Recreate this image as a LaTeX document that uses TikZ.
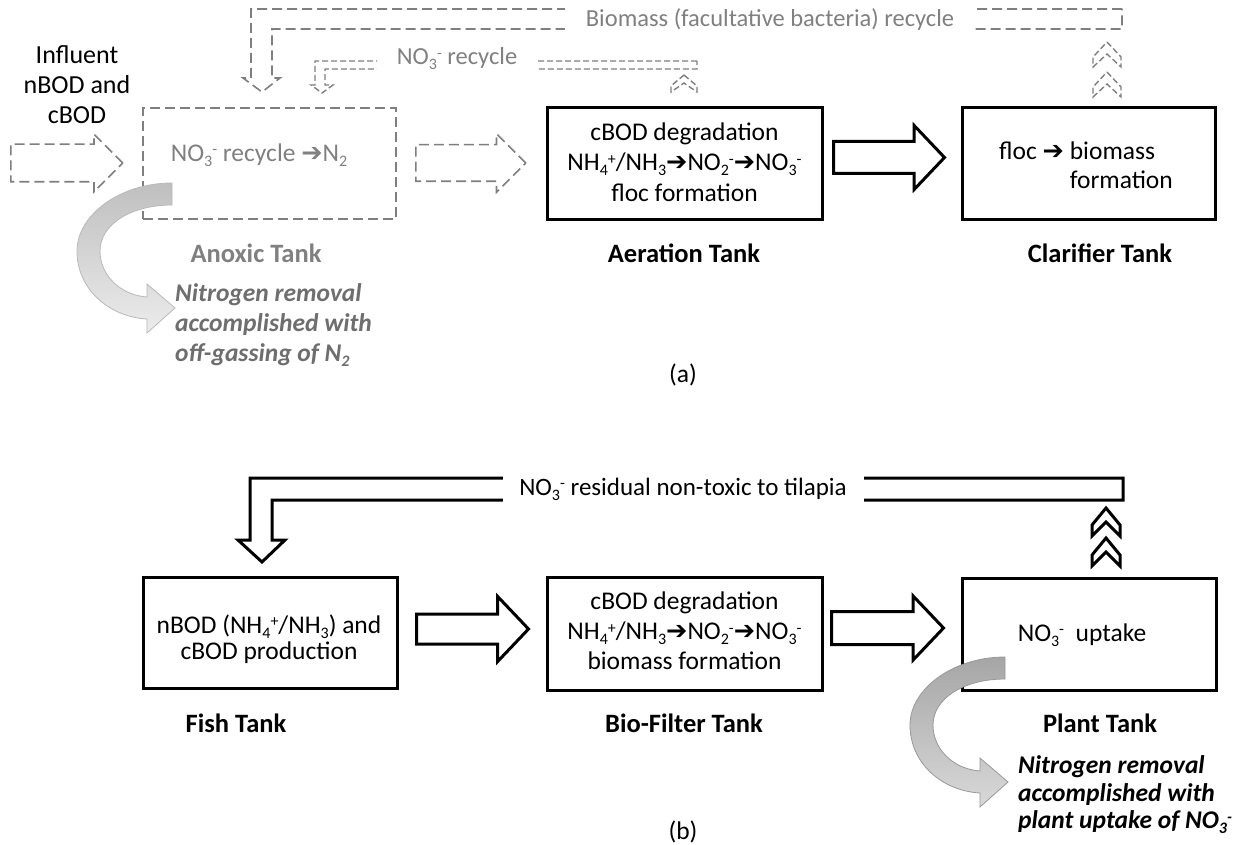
\documentclass[tikz,border=0pt]{standalone}
\usepackage{fontspec}
\setmainfont{Carlito}
\newfontfamily\symf{DejaVu Sans}
\usetikzlibrary{shapes.arrows}
\definecolor{gl}{HTML}{7F7F7F}
\definecolor{gt}{HTML}{808080}
\definecolor{gn}{HTML}{6E6E6E}
\newcommand\arr{{\symf ➔}}
\newcommand\sbs[1]{\raisebox{-0.2em}{\fontsize{16}{16}\selectfont #1}}
\newcommand\sps[1]{\raisebox{0.26em}{\fontsize{16}{16}\selectfont #1}}
\newcommand\nothree{NO\sbs{3}\sps{-}}
\newcommand\mycurvarrow[4]{%
  \begin{scope}[shift={(#1)}]
  \path[draw=#2, line width=0.8pt, top color=#3, bottom color=#4]
    (0,0) .. controls (-52,0) and (-95,32) .. (-95,68)
    .. controls (-95,107) and (-62,134) .. (-25,136)
    -- (-25,150) -- (3,125) -- (-25,101) -- (-25,114)
    .. controls (-52,112) and (-72,92) .. (-72,68)
    .. controls (-72,42) and (-42,22) .. (0,22) -- cycle;
  \end{scope}}
\begin{document}
\begin{tikzpicture}[x=1pt,y=-1pt,
  txt/.style={font=\fontsize{25.5}{29}\selectfont, align=center, inner sep=0pt},
  ptxt/.style={font=\fontsize{24.5}{29}\selectfont, align=center, inner sep=0pt},
  lbl/.style={font=\fontsize{26.5}{29}\selectfont\bfseries, inner sep=0pt},
  nrem/.style={align=left, inner sep=0pt, anchor=west},
  gline/.style={draw=gl, line width=1.6pt, dash pattern=on 10pt off 5pt},
  gsmall/.style={draw=gl, line width=1.4pt, dash pattern=on 6pt off 3pt},
  sbox/.style={draw=black, line width=3pt, fill=white, inner sep=0pt},
  dbox/.style={gline, inner sep=0pt},
  blk/.style={single arrow, draw=black, line width=3pt, fill=white, inner sep=0pt,
    anchor=tail, minimum height=112pt, single arrow tip angle=93},
  dblk/.style={single arrow, gline, inner sep=0pt, anchor=tail, single arrow tip angle=90},
  solidchev/.style={draw=black, line width=3pt, fill=white},
]
\useasboundingbox (0,0) rectangle (1241,845);
\fill[white] (0,0) rectangle (1241,845);

% ---------------- (a) ----------------
\node[dbox, minimum width=253pt, minimum height=111pt] (anoxic) at (269.5,163.5) {};
\node[sbox, minimum width=275pt, minimum height=112pt] (aeration) at (684.5,163.5) {};
\node[sbox, minimum width=253pt, minimum height=112pt] (clarifier) at (1088.5,163.5) {};

\node[dblk, minimum height=112pt, inner ysep=18pt, single arrow head extend=10pt] (infarr) at (10,163) {};
\node[dblk, minimum height=110pt, inner ysep=17.5pt, single arrow head extend=11pt] (anaer) at (415,163) {};
\node[blk, minimum height=111pt, inner ysep=14.5pt, single arrow head extend=16pt] (aerclar) at (832,157.5) {};

% biomass recycle pipe
\draw[gline] (1122,9) -- (251,9) -- (251,78) -- (243,78) -- (262,92) -- (280,78)
  -- (272,78) -- (272,29) -- (1122,29) -- cycle;
\foreach \y in {42,72}
  \draw[gsmall] (1107,\y) -- (1121,{\y+15}) -- (1121,{\y+25}) -- (1107,{\y+12})
    -- (1093,{\y+25}) -- (1093,{\y+15}) -- cycle;
% NO3 recycle pipe
\draw[gsmall] (697,61) -- (315,61) -- (315,85) -- (311,85) -- (322,93) -- (333,85)
  -- (325,85) -- (325,69) -- (697,69) -- cycle;
\draw[gsmall] (684,75) -- (697,86) -- (697,92) -- (684,83) -- (671,92) -- (671,86) -- cycle;

\node[ptxt, fill=white, minimum width=410pt, minimum height=30pt, text=gt] (biorec) at (770,20)
  {Biomass (facultative bacteria) recycle};
\node[ptxt, fill=white, minimum width=160pt, minimum height=22pt, text=gt] (norec) at (457,59)
  {\nothree{} recycle};

\node[txt, font=\fontsize{26}{30}\selectfont] (influent) at (77,85) {Influent\\nBOD and\\cBOD};
\node[txt, text=gt] (anoxic-t) at (259,155) {\nothree{} recycle \arr N\sbs{2}};
\node[txt, font=\fontsize{25.5}{30.5}\selectfont] (aeration-t) at (684.5,162)
  {cBOD degradation\\NH\sbs{4}\sps{+}/NH\sbs{3}\arr NO\sbs{2}\sps{-}\arr NO\sbs{3}\sps{-}\\floc formation};
\node[txt] (clarifier-t) at (1086,168)
  {\begin{tabular}{@{}l@{\ }l@{}}floc \arr & biomass\\ & formation\end{tabular}};

\node[lbl, text=gt] (anoxic-l) at (256,253) {Anoxic Tank};
\node[lbl] (aeration-l) at (684,253) {Aeration Tank};
\node[lbl] (clarifier-l) at (1100,253) {Clarifier Tank};

\mycurvarrow{172,183}{gray!55}{gray!50}{gray!15}
\node[nrem, text=gn, font=\fontsize{25.5}{30}\selectfont\bfseries\itshape] (nrem-a) at (175,325)
  {Nitrogen removal\\accomplished with\\off-gassing of N\sbs{2}};

\node[txt] (capa) at (683,375) {(a)};

% ---------------- (b) ----------------
\node[sbox, minimum width=254pt, minimum height=111pt] (fish) at (270,633) {};
\node[sbox, minimum width=275pt, minimum height=113pt] (biofilter) at (684.5,633.5) {};
\node[sbox, minimum width=254pt, minimum height=112pt] (plant) at (1089,634) {};

\node[blk, inner ysep=13.5pt, single arrow head extend=17.5pt] (fishbio) at (415,629) {};
\node[blk, inner ysep=15pt, single arrow head extend=15.5pt] (bioplant) at (830,628) {};

\draw[line width=3pt, fill=white] (1123,478) -- (250,478) -- (250,540) -- (238,540)
  -- (262,562) -- (285,540) -- (272,540) -- (272,500) -- (1123,500) -- cycle;
\foreach \y in {508,538}
  \draw[solidchev] (1106,\y) -- (1120,{\y+17}) -- (1120,{\y+28}) -- (1106,{\y+14})
    -- (1092,{\y+28}) -- (1092,{\y+17}) -- cycle;
\node[ptxt, fill=white, minimum width=361pt, minimum height=34pt, font=\fontsize{25}{29}\selectfont] (resid) at (683,489)
  {\nothree{} residual non-toxic to tilapia};

\node[txt, font=\fontsize{25.5}{26}\selectfont] (fish-t) at (269,639)
  {nBOD (NH\sbs{4}\sps{+}/NH\sbs{3}) and\\cBOD production};
\node[txt, font=\fontsize{25.5}{30}\selectfont] (biofilter-t) at (684.5,631)
  {cBOD degradation\\NH\sbs{4}\sps{+}/NH\sbs{3}\arr NO\sbs{2}\sps{-}\arr NO\sbs{3}\sps{-}\\biomass formation};
\node[txt] (plant-t) at (1082,635) {\nothree\ \ uptake};

\node[lbl] (fish-l) at (236,723) {Fish Tank};
\node[lbl] (biofilter-l) at (684,723) {Bio-Filter Tank};
\node[lbl] (plant-l) at (1100,723) {Plant Tank};

\mycurvarrow{1005,657}{gray!80}{gray!70}{gray!30}
\node[nrem, font=\fontsize{25.5}{27.5}\selectfont\bfseries\itshape] (nrem-b) at (1018,795)
  {Nitrogen removal\\accomplished with\\plant uptake of \nothree};

\node[txt] (capb) at (683,832) {(b)};
\end{tikzpicture}
\end{document}
